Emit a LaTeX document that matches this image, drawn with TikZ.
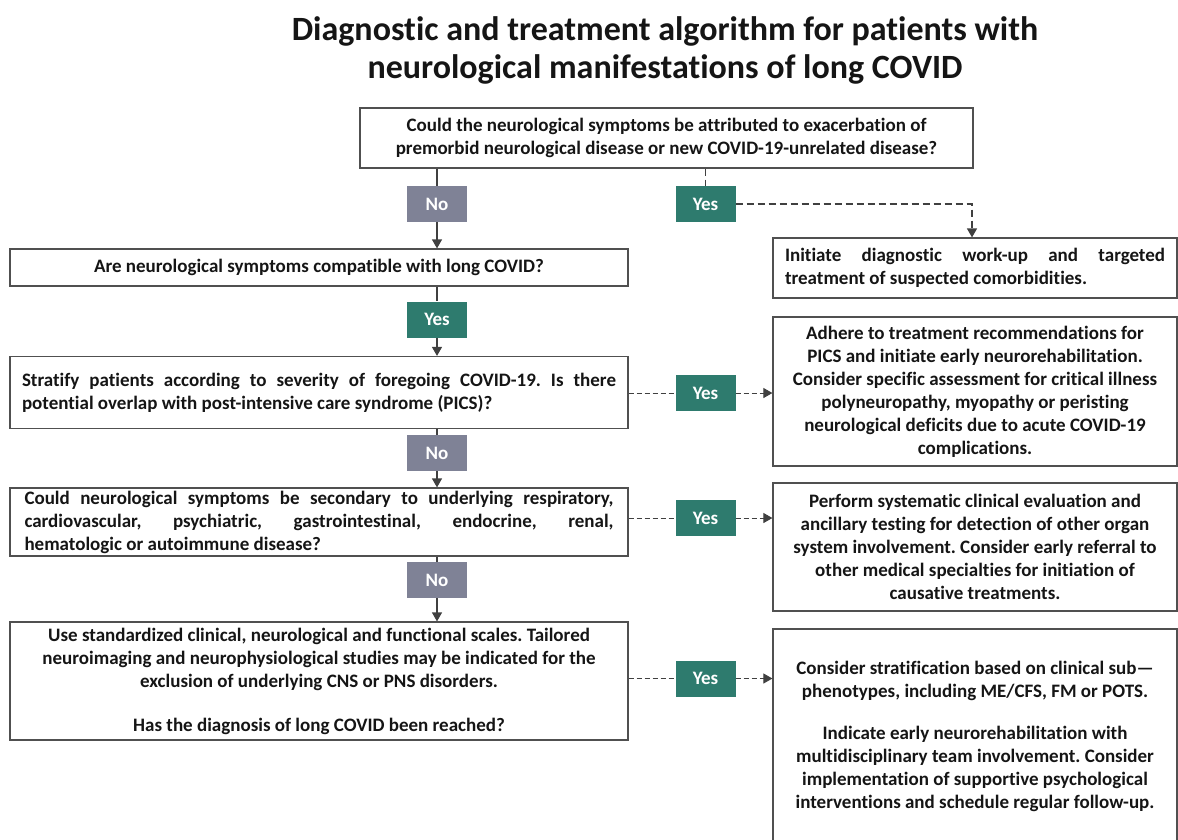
\documentclass[tikz,border=0pt]{standalone}
\usepackage{fontspec}
\setmainfont{Carlito}[Ligatures=NoCommon]
\usetikzlibrary{arrows.meta}
\definecolor{yescol}{HTML}{2E7B6E}
\definecolor{nocol}{HTML}{7F8296}
\definecolor{linecol}{HTML}{404040}
\definecolor{boxcol}{HTML}{505050}
\definecolor{txtcol}{HTML}{151515}
\newcommand{\bodyfont}{\fontsize{19}{23}\selectfont\bfseries}
\newcommand{\ttlfont}{\fontsize{34}{38}\selectfont\bfseries}
\newcommand{\jline}[2]{\makebox[#1pt][s]{#2}}
\frenchspacing
\begin{document}
\frenchspacing
\begin{tikzpicture}[x=1pt,y=-1pt,
  box/.style={draw=boxcol, line width=1.2pt, fill=white, inner sep=0pt, font=\bodyfont, text=txtcol},
  tag/.style={inner sep=0pt, minimum width=60pt, minimum height=36pt, text=white, font=\bodyfont},
  yestag/.style={tag, fill=yescol},
  notag/.style={tag, fill=nocol},
  solidline/.style={draw=linecol, line width=1.2pt},
  arr/.style={solidline, -{Triangle[width=10pt,length=9pt]}},
  dashline/.style={draw=linecol, line width=1pt, dash pattern=on 5pt off 3pt},
  dasharr/.style={dashline, -{Triangle[width=10pt,length=9pt]}},
  bigdash/.style={draw=linecol, line width=1.3pt, dash pattern=on 7pt off 4pt},
  bigdasharr/.style={bigdash, -{Triangle[width=10pt,length=9pt]}}
]
\useasboundingbox (0,0) rectangle (1178,839);
\clip (0,0) rectangle (1178,839);
\fill[white] (0,0) rectangle (1178,839);

\node[font=\ttlfont, align=center, text=txtcol] (title) at (665,50)
  {Diagnostic and treatment algorithm for patients with\\neurological manifestations of long COVID};

\node[box, minimum width=613pt, minimum height=60pt, align=center] (q0) at (666.5,138)
  {Could the neurological symptoms be attributed to exacerbation of\\premorbid neurological disease or new COVID-19-unrelated disease?};

\node[notag] (n1) at (437,204) {No};
\node[yestag] (y1) at (705.5,204) {Yes};

\node[box, minimum width=404pt, minimum height=60pt, align=left] (r1) at (975,268)
  {\jline{380}{Initiate diagnostic work-up and targeted}\\treatment of suspected comorbidities.};

\node[box, minimum width=618pt, minimum height=37pt, align=center] (b2) at (319,267.5)
  {Are neurological symptoms compatible with long COVID?};

\node[yestag] (y2) at (437,319.5) {Yes};

\node[box, minimum width=618pt, minimum height=72pt, align=left] (b3) at (319,392.5)
  {\jline{594}{Stratify patients according to severity of foregoing COVID-19. Is there}\\potential overlap with post-intensive care syndrome (PICS)?};

\node[yestag] (y3) at (705.5,393) {Yes};

\node[box, minimum width=404pt, minimum height=149pt, align=center] (r2) at (975,391.5)
  {Adhere to treatment recommendations for\\PICS and initiate early neurorehabilitation.\\Consider specific assessment for critical illness\\polyneuropathy, myopathy or peristing\\neurological deficits due to acute COVID-19\\complications.};

\node[notag] (n3) at (437,453) {No};

\node[box, minimum width=618pt, minimum height=68pt, align=left] (b4) at (319,522)
  {\jline{589}{Could neurological symptoms be secondary to underlying respiratory,}\\\jline{589}{cardiovascular, psychiatric, gastrointestinal, endocrine, renal,}\\hematologic or autoimmune disease?};

\node[yestag] (y4) at (705.5,518) {Yes};

\node[box, minimum width=404pt, minimum height=128pt, align=center] (r3) at (975,547)
  {Perform systematic clinical evaluation and\\ancillary testing for detection of other organ\\system involvement. Consider early referral to\\other medical specialties for initiation of\\causative treatments.};

\node[notag] (n4) at (437,580) {No};

\node[box, minimum width=618pt, minimum height=118pt, align=center] (b5) at (319,681)
  {Use standardized clinical, neurological and functional scales. Tailored\\neuroimaging and neurophysiological studies may be indicated for the\\exclusion of underlying CNS or PNS disorders.\\[21pt]Has the diagnosis of long COVID been reached?};

\node[yestag] (y5) at (705.5,678.5) {Yes};

\node[box, minimum width=404pt, minimum height=214pt, align=center] (r4) at (975,736)
  {Consider stratification based on clinical sub---\\phenotypes, including ME/CFS, FM or POTS.\\[19pt]Indicate early neurorehabilitation with\\multidisciplinary team involvement. Consider\\implementation of supportive psychological\\interventions and schedule regular follow-up.};

% connectors
\draw[solidline] (q0.south -| n1.north) -- (n1.north);
\draw[arr] (n1.south) -- (b2.north -| n1.south);
\draw[bigdash] (q0.south -| y1.north) -- (y1.north);
\coordinate (k1) at (972,204);
\draw[bigdasharr] (y1.east) -- (k1) -- (r1.north -| k1);

\draw[solidline] (b2.south -| y2.north) -- (y2.north);
\draw[arr] (y2.south) -- (b3.north -| y2.south);
\draw[dashline] (b3.east |- y3.west) -- (y3.west);
\draw[dasharr] (y3.east) -- (r2.west |- y3.east);

\draw[solidline] (b3.south -| n3.north) -- (n3.north);
\draw[arr] (n3.south) -- (b4.north -| n3.south);
\draw[dashline] (b4.east |- y4.west) -- (y4.west);
\draw[dasharr] (y4.east) -- (r3.west |- y4.east);

\draw[solidline] (b4.south -| n4.north) -- (n4.north);
\draw[arr] (n4.south) -- (b5.north -| n4.south);
\draw[dashline] (b5.east |- y5.west) -- (y5.west);
\draw[dasharr] (y5.east) -- (r4.west |- y5.east);
\end{tikzpicture}
\end{document}
